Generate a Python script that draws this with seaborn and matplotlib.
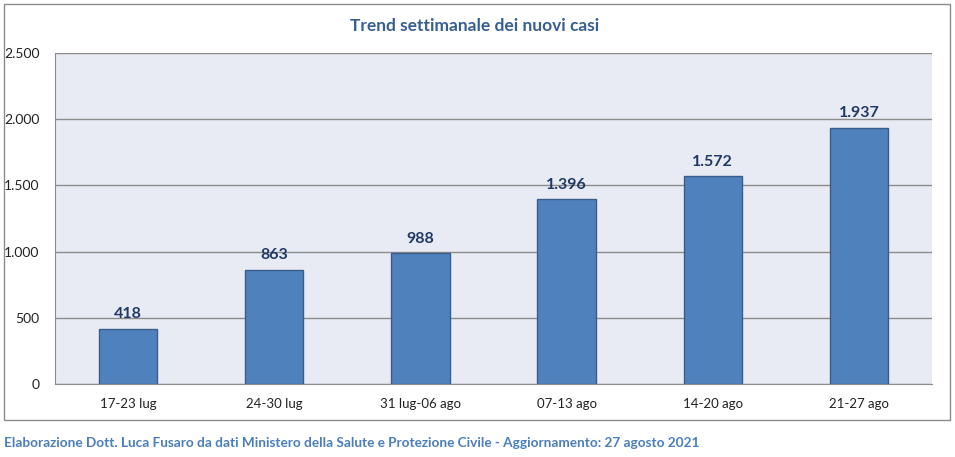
import matplotlib
matplotlib.use("Agg")
import matplotlib.pyplot as plt
import seaborn as sns
import pandas as pd
from matplotlib.patches import Rectangle
from matplotlib.ticker import FuncFormatter, FixedLocator

# Data
weeks = ["17-23 lug", "24-30 lug", "31 lug-06 ago", "07-13 ago", "14-20 ago", "21-27 ago"]
new_cases = [418, 863, 988, 1396, 1572, 1937]
y_ticks = [0, 500, 1000, 1500, 2000, 2500]

df = pd.DataFrame({"week": weeks, "cases": new_cases})

sns.set_style("white")
plt.rcParams["font.family"] = ["Lato", "DejaVu Sans"]

fig = plt.figure(figsize=(9.55, 4.57), dpi=100)
ax = fig.add_axes([55 / 955, 1 - 384 / 457, (932 - 55) / 955, (384 - 53) / 457])

sns.barplot(data=df, x="week", y="cases", ax=ax, color="#4F81BD",
            edgecolor="#385D8A", linewidth=1, width=0.4, saturation=1)

ax.set_facecolor("#E8EBF4")
ax.set_ylim(0, 2500)
ax.set_yticks(y_ticks)
ax.yaxis.set_major_formatter(FuncFormatter(lambda v, p: f"{int(v):,}".replace(",", ".")))
ax.grid(axis="y", color="#8C8C8C", linewidth=1)
ax.set_axisbelow(True)
ax.set_xlabel("")
ax.set_ylabel("")

for side in ["top", "right"]:
    ax.spines[side].set_visible(False)
ax.spines["left"].set_color("#8C8C8C")
ax.spines["bottom"].set_color("#8C8C8C")

ax.tick_params(axis="y", length=5, color="#8C8C8C", labelsize=10, labelcolor="#222222", pad=6)
ax.tick_params(axis="x", which="major", length=0, labelsize=9.5, labelcolor="#222222", pad=10)
ax.xaxis.set_minor_locator(FixedLocator([i + 0.5 for i in range(-1, len(weeks))]))
ax.tick_params(axis="x", which="minor", length=4, color="#8C8C8C")
ax.set_xlim(-0.5, len(weeks) - 0.5)

# value labels
for i, v in enumerate(new_cases):
    ax.text(i, v + 55, f"{v:,}".replace(",", "."), ha="center", va="bottom",
            fontsize=11.5, fontweight="bold", color="#1F3864")

fig.text(475 / 955, 1 - 26 / 457, "Trend settimanale dei nuovi casi", ha="center", va="center",
         fontsize=12.5, fontweight="bold", color="#375F92")

fig.text(4 / 955, 1 - 443 / 457,
         "Elaborazione Dott. Luca Fusaro da dati Ministero della Salute e Protezione Civile - Aggiornamento: 27 agosto 2021",
         ha="left", va="center", fontsize=9.8, fontweight="bold", color="#4A7EBB")

# outer chart frame
fig.patches.append(Rectangle((4 / 955, 1 - 420 / 457), 946 / 955, 416 / 457,
                             transform=fig.transFigure, fill=False,
                             edgecolor="#8C8C8C", linewidth=1))

fig.savefig("out.png", dpi=100, facecolor="white")
